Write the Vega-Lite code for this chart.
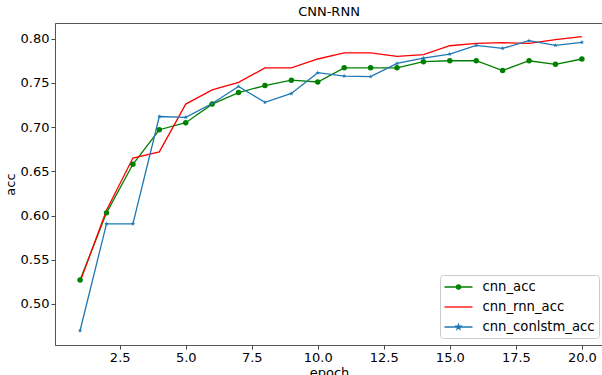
{
  "$schema": "https://vega.github.io/schema/vega-lite/v6.json",
  "width": 548,
  "height": 322,
  "autosize": "none",
  "padding": {"left": 55, "top": 23, "right": 0, "bottom": 30},
  "background": "white",
  "config": {
    "font": "DejaVu Sans",
    "view": {"stroke": "#555", "strokeWidth": 1}
  },
  "title": {"text": "CNN-RNN", "fontSize": 13, "fontWeight": "normal", "offset": 4, "color": "#000", "font": "DejaVu Sans"},
  "data": {
    "values": [
      {"epoch": 1, "series": "cnn_acc", "acc": 0.527},
      {"epoch": 2, "series": "cnn_acc", "acc": 0.603},
      {"epoch": 3, "series": "cnn_acc", "acc": 0.658},
      {"epoch": 4, "series": "cnn_acc", "acc": 0.697},
      {"epoch": 5, "series": "cnn_acc", "acc": 0.705},
      {"epoch": 6, "series": "cnn_acc", "acc": 0.726},
      {"epoch": 7, "series": "cnn_acc", "acc": 0.739},
      {"epoch": 8, "series": "cnn_acc", "acc": 0.747},
      {"epoch": 9, "series": "cnn_acc", "acc": 0.753},
      {"epoch": 10, "series": "cnn_acc", "acc": 0.751},
      {"epoch": 11, "series": "cnn_acc", "acc": 0.767},
      {"epoch": 12, "series": "cnn_acc", "acc": 0.767},
      {"epoch": 13, "series": "cnn_acc", "acc": 0.767},
      {"epoch": 14, "series": "cnn_acc", "acc": 0.774},
      {"epoch": 15, "series": "cnn_acc", "acc": 0.775},
      {"epoch": 16, "series": "cnn_acc", "acc": 0.775},
      {"epoch": 17, "series": "cnn_acc", "acc": 0.764},
      {"epoch": 18, "series": "cnn_acc", "acc": 0.775},
      {"epoch": 19, "series": "cnn_acc", "acc": 0.771},
      {"epoch": 20, "series": "cnn_acc", "acc": 0.777},
      {"epoch": 1, "series": "cnn_rnn_acc", "acc": 0.525},
      {"epoch": 2, "series": "cnn_rnn_acc", "acc": 0.606},
      {"epoch": 3, "series": "cnn_rnn_acc", "acc": 0.665},
      {"epoch": 4, "series": "cnn_rnn_acc", "acc": 0.672},
      {"epoch": 5, "series": "cnn_rnn_acc", "acc": 0.726},
      {"epoch": 6, "series": "cnn_rnn_acc", "acc": 0.742},
      {"epoch": 7, "series": "cnn_rnn_acc", "acc": 0.7505},
      {"epoch": 8, "series": "cnn_rnn_acc", "acc": 0.767},
      {"epoch": 9, "series": "cnn_rnn_acc", "acc": 0.767},
      {"epoch": 10, "series": "cnn_rnn_acc", "acc": 0.777},
      {"epoch": 11, "series": "cnn_rnn_acc", "acc": 0.784},
      {"epoch": 12, "series": "cnn_rnn_acc", "acc": 0.784},
      {"epoch": 13, "series": "cnn_rnn_acc", "acc": 0.780},
      {"epoch": 14, "series": "cnn_rnn_acc", "acc": 0.782},
      {"epoch": 15, "series": "cnn_rnn_acc", "acc": 0.792},
      {"epoch": 16, "series": "cnn_rnn_acc", "acc": 0.7947},
      {"epoch": 17, "series": "cnn_rnn_acc", "acc": 0.7955},
      {"epoch": 18, "series": "cnn_rnn_acc", "acc": 0.7947},
      {"epoch": 19, "series": "cnn_rnn_acc", "acc": 0.7989},
      {"epoch": 20, "series": "cnn_rnn_acc", "acc": 0.8023},
      {"epoch": 1, "series": "cnn_conlstm_acc", "acc": 0.470},
      {"epoch": 2, "series": "cnn_conlstm_acc", "acc": 0.5906},
      {"epoch": 3, "series": "cnn_conlstm_acc", "acc": 0.5906},
      {"epoch": 4, "series": "cnn_conlstm_acc", "acc": 0.712},
      {"epoch": 5, "series": "cnn_conlstm_acc", "acc": 0.711},
      {"epoch": 6, "series": "cnn_conlstm_acc", "acc": 0.7267},
      {"epoch": 7, "series": "cnn_conlstm_acc", "acc": 0.746},
      {"epoch": 8, "series": "cnn_conlstm_acc", "acc": 0.728},
      {"epoch": 9, "series": "cnn_conlstm_acc", "acc": 0.738},
      {"epoch": 10, "series": "cnn_conlstm_acc", "acc": 0.7615},
      {"epoch": 11, "series": "cnn_conlstm_acc", "acc": 0.7577},
      {"epoch": 12, "series": "cnn_conlstm_acc", "acc": 0.757},
      {"epoch": 13, "series": "cnn_conlstm_acc", "acc": 0.772},
      {"epoch": 14, "series": "cnn_conlstm_acc", "acc": 0.778},
      {"epoch": 15, "series": "cnn_conlstm_acc", "acc": 0.7826},
      {"epoch": 16, "series": "cnn_conlstm_acc", "acc": 0.7924},
      {"epoch": 17, "series": "cnn_conlstm_acc", "acc": 0.789},
      {"epoch": 18, "series": "cnn_conlstm_acc", "acc": 0.7977},
      {"epoch": 19, "series": "cnn_conlstm_acc", "acc": 0.7924},
      {"epoch": 20, "series": "cnn_conlstm_acc", "acc": 0.7958}
    ]
  },
  "encoding": {
    "x": {
      "field": "epoch", "type": "quantitative",
      "scale": {"domain": [0.05, 20.8], "nice": false, "zero": false},
      "axis": {
        "values": [2.5, 5, 7.5, 10, 12.5, 15, 17.5, 20], "format": ".1f",
        "title": "epoch", "grid": false, "labelFontSize": 13, "titleFontSize": 13,
        "titleFontWeight": "normal", "labelColor": "#000", "titleColor": "#000",
        "tickSize": 4, "tickColor": "#444", "domainColor": "#555", "labelPadding": 2, "titlePadding": 2
      }
    },
    "y": {
      "field": "acc", "type": "quantitative",
      "scale": {"domain": [0.4536, 0.8177], "nice": false, "zero": false},
      "axis": {
        "values": [0.5, 0.55, 0.6, 0.65, 0.7, 0.75, 0.8], "format": ".2f",
        "title": "acc", "grid": false, "labelFontSize": 13, "titleFontSize": 13,
        "titleFontWeight": "normal", "labelColor": "#000", "titleColor": "#000",
        "tickSize": 4, "tickColor": "#444", "domainColor": "#555", "labelPadding": 2, "titlePadding": 3
      }
    }
  },
  "layer": [
    {
      "mark": {"type": "line", "strokeWidth": 1.3, "clip": true},
      "encoding": {
        "color": {
          "field": "series", "type": "nominal",
          "scale": {"domain": ["cnn_acc", "cnn_rnn_acc", "cnn_conlstm_acc"], "range": ["#008000", "#ff0000", "#1f77b4"]},
          "legend": {
            "orient": "none", "legendX": 385, "legendY": 252, "title": null,
            "fillColor": "white", "strokeColor": "#cccccc", "cornerRadius": 3, "padding": 4,
            "labelFontSize": 13.2, "labelColor": "#000", "labelFont": "DejaVu Sans",
            "symbolSize": 196, "symbolStrokeWidth": 1.3, "symbolOffset": 6.5, "labelOffset": 16, "rowPadding": 5,
            "encode": {
              "symbols": {
                "update": {
                  "shape": {"signal": "datum.value === 'cnn_acc' ? 'M-2,0L2,0M0.3,0A0.3,0.3 0 1,1 -0.3,0A0.3,0.3 0 1,1 0.3,0Z' : datum.value === 'cnn_rnn_acc' ? 'M-2,0L2,0' : 'M-2,0L2,0M0,-0.36L0.085,-0.117L0.342,-0.111L0.137,0.045L0.212,0.291L0,0.144L-0.212,0.291L-0.137,0.045L-0.342,-0.111L-0.085,-0.117Z'"},
                  "fill": {"signal": "scale('color', datum.value)"},
                  "fillOpacity": {"value": 1}
                }
              }
            }
          }
        }
      }
    },
    {
      "transform": [{"filter": "datum.series !== 'cnn_rnn_acc'"}],
      "mark": {"type": "point", "filled": true, "opacity": 1, "clip": true},
      "encoding": {
        "color": {"field": "series", "type": "nominal"},
        "size": {
          "field": "series", "type": "nominal",
          "scale": {"domain": ["cnn_acc", "cnn_conlstm_acc"], "range": [30, 22]},
          "legend": null
        },
        "shape": {
          "field": "series", "type": "nominal",
          "scale": {"domain": ["cnn_acc", "cnn_conlstm_acc"], "range": ["circle", "M0,-1L0.235,-0.324L0.951,-0.309L0.38,0.124L0.588,0.809L0,0.4L-0.588,0.809L-0.38,0.124L-0.951,-0.309L-0.235,-0.324Z"]},
          "legend": null
        }
      }
    }
  ]
}
